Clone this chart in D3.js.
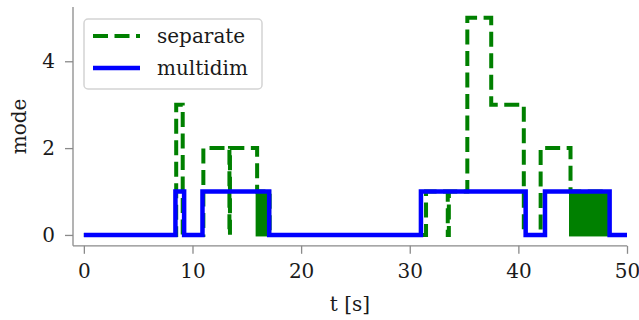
<!DOCTYPE html>
<html>
<head>
<meta charset="utf-8">
<script src="https://cdn.jsdelivr.net/npm/d3@7"></script>
<style>
  html, body { margin: 0; padding: 0; background: #fff; }
</style>
</head>
<body>
<div id="chart"></div>
<script>
// mode over time, step plot (value holds until next point)
var sepT    = [0, 8.5, 9.1, 11.0, 13.4, 13.45, 15.95, 17.1, 31.5, 33.5, 33.6, 35.3, 37.5, 40.5, 42.05, 44.8, 48.3, 50];
var sepMode = [0, 3,   0,   2,    0,    2,     1,     0,    1,    0,    1,    5,    3,    0,    2,     1,    0,    0];
// intervals where "separate" chatters quickly between 0 and 1 (solid block)
var chatterStart = [15.95, 44.8];
var chatterEnd   = [17.1, 48.3];

var mdT    = [0, 8.43, 9.23, 10.92, 17.06, 31.03, 40.67, 42.45, 48.4, 50];
var mdMode = [0, 1,    0,    1,     0,     1,     0,     1,     0,    0];

var xTicks = [0, 10, 20, 30, 40, 50];
var yTicks = [0, 2, 4];
var seriesNames = ["separate", "multidim"];

var width = 639, height = 320;
var green = "#008000", blue = "#0000ff", spine = "#8a8a8a";
var serif = "'DejaVu Serif', 'Liberation Serif', serif";
var fs = "20px";

var svg = d3.select("#chart").append("svg")
  .attr("width", width)
  .attr("height", height);

var x = d3.scaleLinear().domain([-1, 50]).range([73, 627]);
var y = d3.scaleLinear().domain([-0.25, 5.25]).range([245.8, 7]);

// axes
var xAxis = d3.axisBottom(x).tickValues(xTicks).tickFormat(d3.format("d")).tickSize(8).tickPadding(10);
var yAxis = d3.axisLeft(y).tickValues(yTicks).tickFormat(d3.format("d")).tickSize(8).tickPadding(10);

var gx = svg.append("g").attr("transform", "translate(0," + y.range()[0] + ")").call(xAxis);
var gy = svg.append("g").attr("transform", "translate(" + x.range()[0] + ",0)").call(yAxis);
[gx, gy].forEach(function(g) {
  g.attr("font-family", null).attr("font-size", null);
  g.select(".domain").attr("stroke", spine).attr("stroke-width", 1.3);
  g.selectAll(".tick line").attr("stroke", spine).attr("stroke-width", 1.3);
  g.selectAll(".tick text")
    .style("font-family", serif)
    .style("font-size", fs)
    .attr("fill", "#1a1a1a");
});
// remove the outer tick stubs of the domain paths
gx.select(".domain").attr("d", "M" + x.range()[0] + ",0H" + x.range()[1]);
gy.select(".domain").attr("d", "M0," + y.range()[0] + "V" + y.range()[1]);

svg.append("text")
  .attr("x", (x.range()[0] + x.range()[1]) / 2)
  .attr("y", 311)
  .attr("text-anchor", "middle")
  .style("font-family", serif)
  .style("font-size", fs)
  .attr("fill", "#1a1a1a")
  .text("t [s]");

svg.append("text")
  .attr("transform", "translate(26," + (y.range()[0] + y.range()[1]) / 2 + ") rotate(-90)")
  .attr("text-anchor", "middle")
  .style("font-family", serif)
  .style("font-size", fs)
  .attr("fill", "#1a1a1a")
  .text("mode");

var line = d3.line()
  .x(function(d) { return x(d[0]); })
  .y(function(d) { return y(d[1]); })
  .curve(d3.curveStepAfter);

// separate: chatter blocks
svg.append("g").selectAll("rect")
  .data(chatterStart.map(function(s, i) { return [s, chatterEnd[i]]; }))
  .enter().append("rect")
    .attr("x", function(d) { return x(d[0]); })
    .attr("width", function(d) { return x(d[1]) - x(d[0]); })
    .attr("y", y(1))
    .attr("height", y(0) - y(1))
    .attr("fill", green)
    .attr("stroke", green)
    .attr("stroke-width", 3);

svg.append("path")
  .datum(sepT.map(function(t, i) { return [t, sepMode[i]]; }))
  .attr("d", line)
  .attr("fill", "none")
  .attr("stroke", green)
  .attr("stroke-width", 4)
  .attr("stroke-dasharray", "15,6.5");

svg.append("path")
  .datum(mdT.map(function(t, i) { return [t, mdMode[i]]; }))
  .attr("d", line)
  .attr("fill", "none")
  .attr("stroke", blue)
  .attr("stroke-width", 4.5)
  .attr("stroke-linejoin", "miter");

// legend
var legend = svg.append("g");
legend.append("rect")
  .attr("x", 84).attr("y", 19)
  .attr("width", 178).attr("height", 70)
  .attr("rx", 4).attr("ry", 4)
  .attr("fill", "#fff").attr("fill-opacity", 0.8)
  .attr("stroke", "#d4d4d4").attr("stroke-width", 1.5);

var legendColors = [green, blue];
var legendDash = ["15,6.5", null];
var legendWidth = [4, 4.5];
var rowsY = [36, 68];
seriesNames.forEach(function(name, i) {
  legend.append("line")
    .attr("x1", 93).attr("x2", 140)
    .attr("y1", rowsY[i]).attr("y2", rowsY[i])
    .attr("stroke", legendColors[i])
    .attr("stroke-width", legendWidth[i])
    .attr("stroke-dasharray", legendDash[i]);
  legend.append("text")
    .attr("x", 157).attr("y", rowsY[i] + 7)
    .style("font-family", serif)
    .style("font-size", fs)
    .attr("fill", "#1a1a1a")
    .text(name);
});
</script>
</body>
</html>
